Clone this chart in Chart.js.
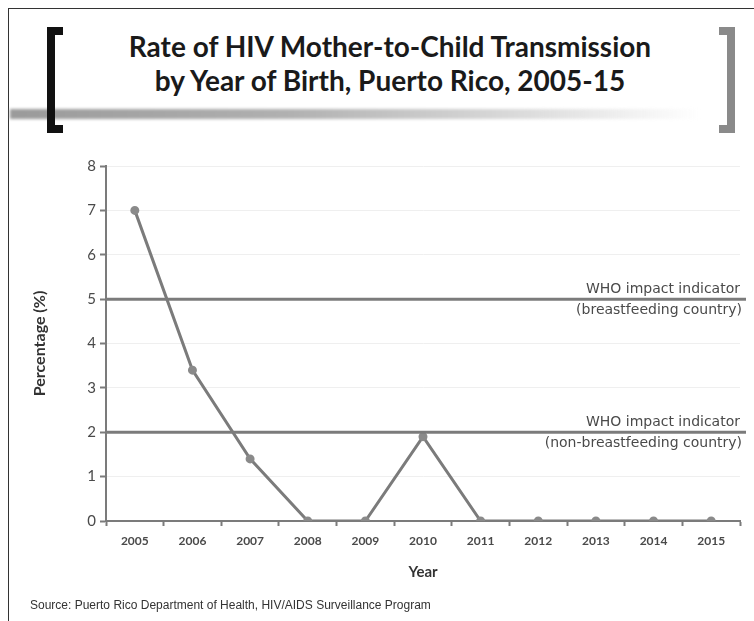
<!DOCTYPE html>
<html>
<head>
<meta charset="utf-8">
<script src="https://cdn.jsdelivr.net/npm/chart.js@4.4.1/dist/chart.umd.min.js"></script>
<style>
  html, body { margin: 0; padding: 0; background: #fff; }
  #wrap { position: relative; width: 754px; height: 621px; overflow: hidden; }
  #frame { position: absolute; left: 8px; top: 8px; right: -2px; bottom: -2px; border-left: 1px solid #333; border-top: 1px solid #333; }
  #bar { position: absolute; left: 10px; top: 109px; width: 690px; height: 10px;
         background: linear-gradient(to right, #9a9a9a 0%, #b0b0b0 40%, #dcdcdc 75%, rgba(255,255,255,0) 100%);
         filter: blur(1.5px); }
  .brk { position: absolute; top: 27px; width: 8px; height: 90px; border: 8px solid #111; }
  #brkL { left: 47px; border-right: none; }
  #brkR { left: 719px; border-left: none; border-color: #8a8a8a; }
  #title { position: absolute; left: 0; width: 780px; top: 29px; text-align: center;
           font-family: Lato, "Open Sans", sans-serif; font-weight: bold; font-size: 28px; line-height: 34px; color: #1a1a1a; }
  #source { position: absolute; left: 30px; top: 598px; font-family: "Liberation Sans", Arial, sans-serif; font-size: 12px; color: #333; }
  canvas { position: absolute; left: 0; top: 0; }
</style>
</head>
<body>
<div id="wrap">
  <div id="frame"></div>
  <div id="bar"></div>
  <div id="brkL" class="brk"></div>
  <div id="brkR" class="brk"></div>
  <div id="title">Rate of HIV Mother-to-Child Transmission<br>by Year of Birth, Puerto Rico, 2005-15</div>
  <canvas id="mtctChart" width="754" height="621"></canvas>
  <div id="source">Source: Puerto Rico Department of Health, HIV/AIDS Surveillance Program</div>
</div>
<script>
// Tasa de transmisión madre-hijo por año de nacimiento
const years = ['2005', '2006', '2007', '2008', '2009', '2010', '2011', '2012', '2013', '2014', '2015'];
const rates = [7.0, 3.4, 1.4, 0, 0, 1.9, 0, 0, 0, 0, 0];
const yTicks = [0, 1, 2, 3, 4, 5, 6, 7, 8];

// Indicadores de impacto de la OMS
const whoLevels = [5, 2];
const whoLabels = [
    ['WHO impact indicator', '(breastfeeding country)'],
    ['WHO impact indicator', '(non-breastfeeding country)']
];

const GRAY = '#7b7b7b';
const TEXT = '#4a4a4a';

// Líneas horizontales de referencia con sus etiquetas
const whoLinesPlugin = {
    id: 'whoLines',
    afterDatasetsDraw(chart) {
        const { ctx, chartArea, scales } = chart;
        ctx.save();
        whoLevels.forEach((level, i) => {
            const y = scales.y.getPixelForValue(level);
            ctx.strokeStyle = GRAY;
            ctx.lineWidth = 3;
            ctx.beginPath();
            ctx.moveTo(chartArea.left, y);
            ctx.lineTo(chartArea.right + 6, y);
            ctx.stroke();

            ctx.fillStyle = TEXT;
            ctx.font = '14px "DejaVu Sans", sans-serif';
            ctx.textAlign = 'right';
            ctx.textBaseline = 'bottom';
            ctx.fillText(whoLabels[i][0], chartArea.right, y - 3);
            ctx.textBaseline = 'top';
            ctx.fillText(whoLabels[i][1], chartArea.right + 2, y + 4);
        });
        ctx.restore();
    }
};

const ctx = document.getElementById('mtctChart').getContext('2d');

const data = {
    labels: years,
    datasets: [{
        label: 'Rate',
        data: rates,
        borderColor: GRAY,
        borderWidth: 3,
        pointRadius: 3,
        pointBackgroundColor: '#8a8a8a',
        pointBorderColor: '#8a8a8a',
        tension: 0,
        fill: false
    }]
};

const config = {
    type: 'line',
    data: data,
    plugins: [whoLinesPlugin],
    options: {
        responsive: false,
        animation: false,
        layout: {
            padding: { left: 20, top: 166, right: 14, bottom: 34 }
        },
        scales: {
            x: {
                offset: true,
                grid: {
                    offset: true,
                    drawOnChartArea: false,
                    drawTicks: true,
                    tickLength: 5,
                    tickColor: GRAY,
                    tickWidth: 2
                },
                border: { color: GRAY, width: 2 },
                ticks: {
                    color: TEXT,
                    padding: 8,
                    font: { family: 'Lato, sans-serif', size: 12, weight: 'bold' }
                },
                title: {
                    display: true,
                    text: 'Year',
                    color: '#333',
                    padding: { top: 12, bottom: 6 },
                    font: { family: 'Lato, sans-serif', size: 15, weight: 'bold' }
                },
                afterFit(scale) { scale.height = 66; }
            },
            y: {
                min: 0,
                max: 8,
                afterBuildTicks(scale) { scale.ticks = yTicks.map(v => ({ value: v })); },
                grid: {
                    color: '#efefef',
                    lineWidth: 1,
                    drawTicks: true,
                    tickLength: 6,
                    tickColor: GRAY,
                    tickWidth: 2
                },
                border: { color: GRAY, width: 2 },
                ticks: {
                    color: TEXT,
                    padding: 4,
                    font: { family: 'Lato, sans-serif', size: 15 }
                },
                title: {
                    display: true,
                    text: 'Percentage (%)',
                    color: '#333',
                    padding: { top: 10, bottom: 0 },
                    font: { family: 'Lato, sans-serif', size: 16, weight: 'bold' }
                },
                afterFit(scale) { scale.width = 86; }
            }
        },
        plugins: {
            legend: { display: false },
            tooltip: { enabled: false }
        }
    }
};

const mtctChart = new Chart(ctx, config);
</script>
</body>
</html>
